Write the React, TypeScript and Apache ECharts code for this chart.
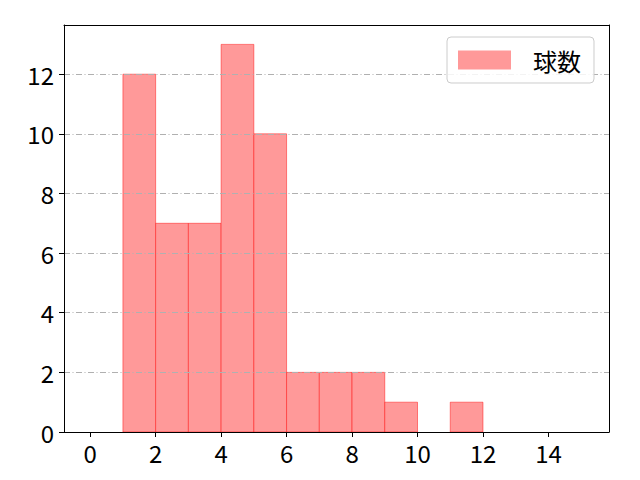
import React, { useEffect, useRef } from "react";
import * as echarts from "echarts";

const binStarts = [1, 2, 3, 4, 5, 6, 7, 8, 9, 10, 11];
const binWidth = 1;
const counts = [12, 7, 7, 13, 10, 2, 2, 2, 1, 0, 1];
const xTicks = [0, 2, 4, 6, 8, 10, 12, 14];
const yTicks = [0, 2, 4, 6, 8, 10, 12];
const seriesName = "球数";

const FONT = "'Noto Sans CJK JP', 'DejaVu Sans', sans-serif";

export default function App() {
  const ref = useRef<HTMLDivElement>(null);
  useEffect(() => {
    const chart = echarts.init(ref.current!, null, { renderer: "svg" });
    const data = binStarts.map((s, i) => [s, s + binWidth, counts[i]]);
    chart.setOption({
      animation: false,
      backgroundColor: "#ffffff",
      grid: { left: 64, right: 31, top: 25, bottom: 48, containLabel: false },
      legend: {
        data: [{ name: seriesName, icon: "rect" }],
        left: 447,
        top: 37,
        itemWidth: 53,
        itemHeight: 19,
        padding: [11, 13, 11, 11],
        borderColor: "#cccccc",
        borderWidth: 1,
        borderRadius: 4,
        backgroundColor: "rgba(255,255,255,0.85)",
        textStyle: {
          fontFamily: FONT,
          fontSize: 24,
          color: "#000",
          padding: [0, 0, 0, 17],
        },
        z: 10,
      },
      xAxis: [
        {
          type: "value",
          min: -0.8,
          max: 15.85,
          z: 6,
          axisLine: { show: true, onZero: false, lineStyle: { color: "#000", width: 1 } },
          axisTick: {
            show: true,
            customValues: xTicks,
            length: 5,
            lineStyle: { color: "#000" },
          },
          axisLabel: {
            customValues: xTicks,
            fontFamily: FONT,
            fontSize: 24,
            color: "#000",
            margin: 8,
          },
          splitLine: { show: false },
        },
        {
          type: "value",
          position: "top",
          min: -0.8,
          max: 15.85,
          z: 6,
          axisLine: { show: true, onZero: false, lineStyle: { color: "#000", width: 1 } },
          axisTick: { show: false },
          axisLabel: { show: false },
          splitLine: { show: false },
        },
      ],
      yAxis: [
        {
          type: "value",
          min: 0,
          max: 13.65,
          z: 5,
          axisLine: { show: true, onZero: false, lineStyle: { color: "#000", width: 1 } },
          axisTick: {
            show: true,
            customValues: yTicks,
            length: 5,
            lineStyle: { color: "#000" },
          },
          axisLabel: {
            customValues: yTicks,
            fontFamily: FONT,
            fontSize: 24,
            color: "#000",
            margin: 10,
          },
          splitLine: {
            show: true,
            lineStyle: { color: "#b0b0b0", width: 1, type: [6, 2.5, 1, 2.5] },
          },
        },
        {
          type: "value",
          position: "right",
          min: 0,
          max: 13.65,
          z: 6,
          axisLine: { show: true, onZero: false, lineStyle: { color: "#000", width: 1 } },
          axisTick: { show: false },
          axisLabel: { show: false },
          splitLine: { show: false },
        },
      ],
      series: [
        {
          type: "custom",
          name: seriesName,
          xAxisIndex: 0,
          yAxisIndex: 0,
          z: 1,
          itemStyle: { color: "#ff9999", borderColor: "rgba(255,0,0,0.45)" },
          encode: { x: [0, 1], y: 2 },
          data,
          renderItem: (params: any, api: any) => {
            if (!api.value(2)) return null;
            const p0 = api.coord([api.value(0), 0]);
            const p1 = api.coord([api.value(1), api.value(2)]);
            return {
              type: "rect",
              shape: { x: p0[0], y: p1[1], width: p1[0] - p0[0], height: p0[1] - p1[1] },
              style: { fill: "#ff9999", stroke: "rgba(255,0,0,0.45)", lineWidth: 1 },
            };
          },
        },
      ],
    });
    return () => chart.dispose();
  }, []);
  return (
    <div
      ref={ref}
      style={{ position: "absolute", left: 0, top: 0, width: 640, height: 480 }}
    />
  );
}
